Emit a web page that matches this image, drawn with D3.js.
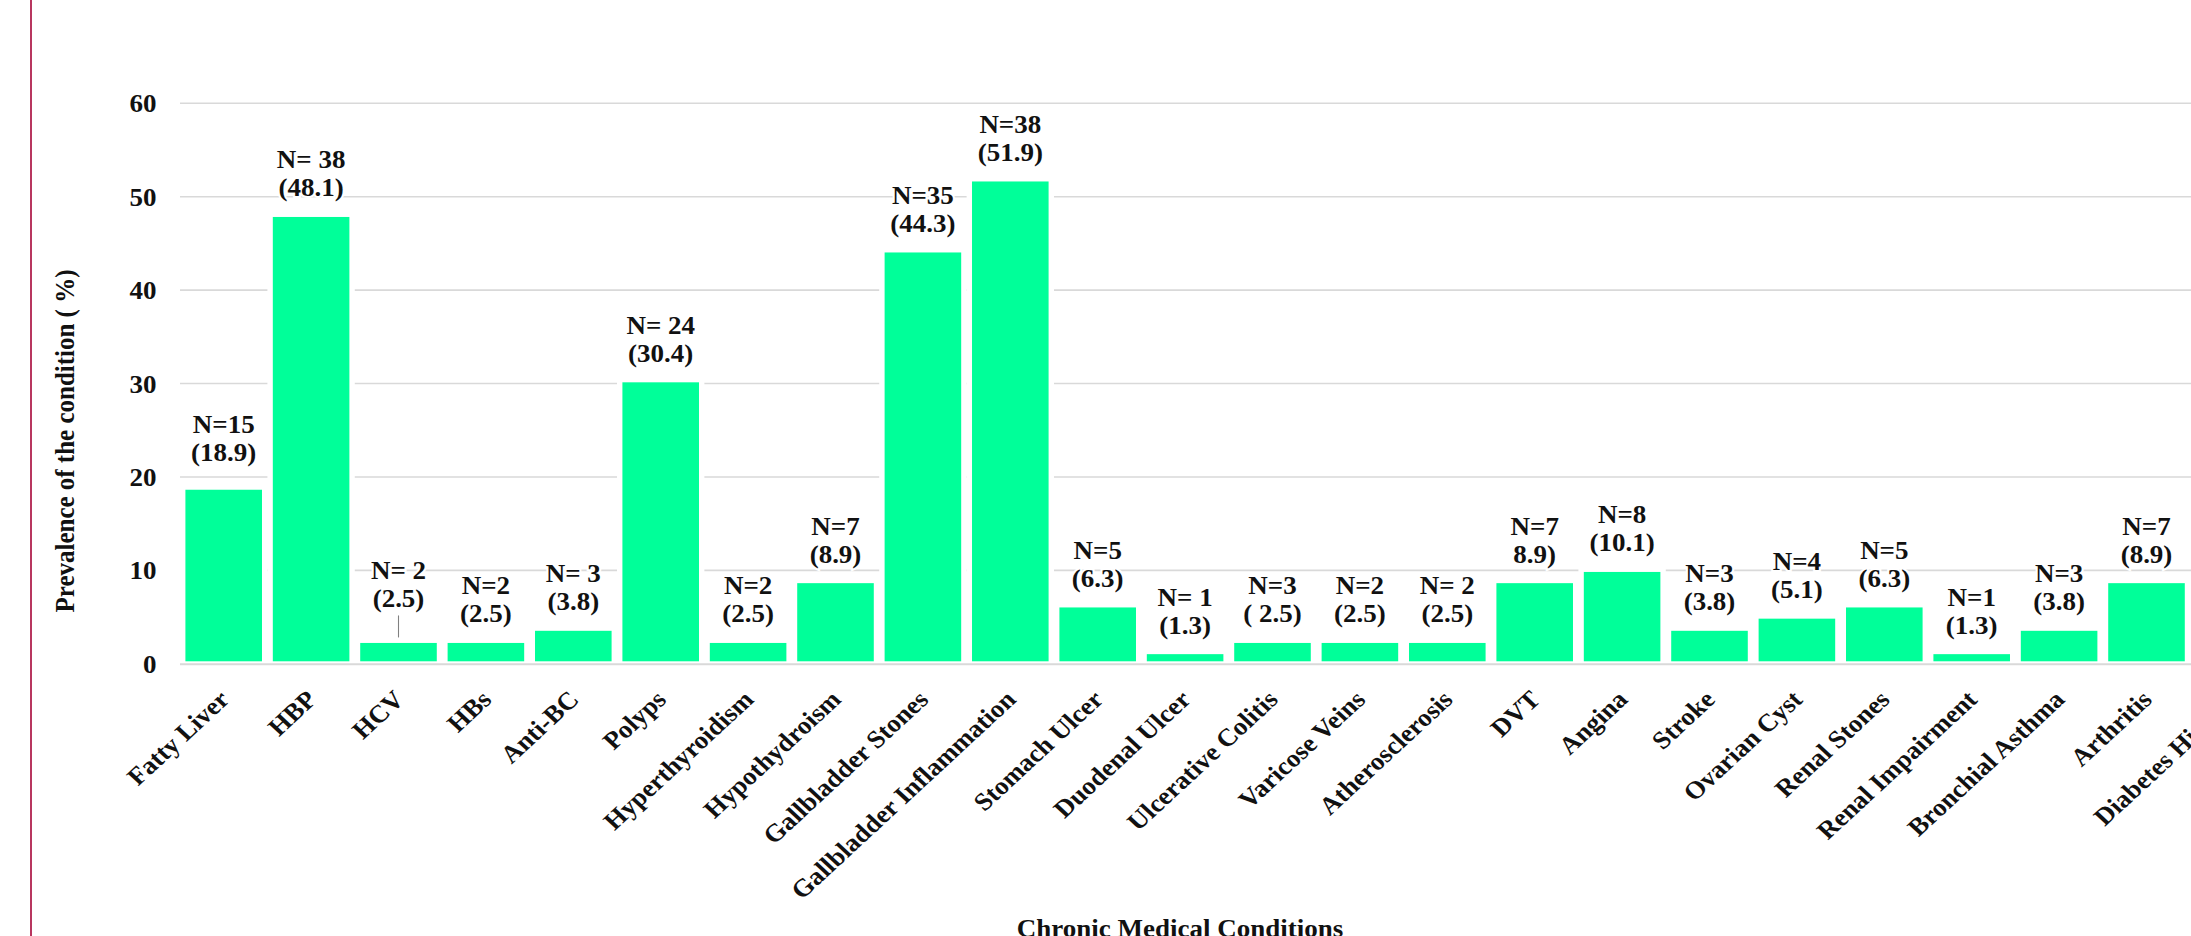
<!DOCTYPE html>
<html>
<head>
<meta charset="utf-8">
<script src="https://cdn.jsdelivr.net/npm/d3@7"></script>
<style>
html,body{margin:0;padding:0;background:#fff;overflow:hidden}
text{font-family:"Liberation Serif","Times New Roman",serif;font-weight:bold;fill:#111}
</style>
</head>
<body>
<svg id="chart" width="2191" height="936"></svg>
<script>
// ---------- data ----------
const categories = ["Fatty Liver","HBP","HCV","HBs","Anti-BC","Polyps","Hyperthyroidism","Hypothydroism",
  "Gallbladder Stones","Gallbladder Inflammation","Stomach Ulcer","Duodenal Ulcer","Ulcerative Colitis",
  "Varicose Veins","Atherosclerosis","DVT","Angina","Stroke","Ovarian Cyst","Renal Stones",
  "Renal Impairment","Bronchial Asthma","Arthritis","Diabetes History"];
const values = [18.9,48.1,2.5,2.5,3.8,30.4,2.5,8.9,44.3,51.9,6.3,1.3,2.5,2.5,2.5,8.9,10.1,3.8,5.1,6.3,1.3,3.8,8.9,null];
const countLabels = ["N=15","N= 38","N= 2","N=2","N= 3","N= 24","N=2","N=7","N=35","N=38","N=5","N= 1","N=3",
  "N=2","N= 2","N=7","N=8","N=3","N=4","N=5","N=1","N=3","N=7",""];
const percentLabels = ["(18.9)","(48.1)","(2.5)","(2.5)","(3.8)","(30.4)","(2.5)","(8.9)","(44.3)","(51.9)","(6.3)",
  "(1.3)","( 2.5)","(2.5)","(2.5)","8.9)","(10.1)","(3.8)","(5.1)","(6.3)","(1.3)","(3.8)","(8.9)",""];
const yTicks = [0,10,20,30,40,50,60];
const yTitle = "Prevalence of the condition ( %)";
const xTitle = "Chronic Medical Conditions";

// ---------- layout ----------
const W = 2191, H = 936;
const SX = 1.08;            // horizontal stretch of the whole figure
const FS = 25;              // font size
const labelLift = {"Fatty Liver": 8, "HCV": 15};   // manual nudges of data labels (px)
const leaderFor = {"HCV": true};

const svg = d3.select("#chart");
svg.append("rect").attr("width", W).attr("height", H).attr("fill", "#fff");
svg.append("line").attr("x1", 31).attr("x2", 31).attr("y1", 0).attr("y2", H)
  .attr("stroke", "#b8365f").attr("stroke-width", 2);

const g = svg.append("g").attr("transform", `scale(${SX},1)`);

const left = 180 / SX, step = 87.4 / SX;
const x = d3.scaleBand().domain(categories)
  .range([left, left + categories.length * step])
  .paddingInner(0.062).paddingOuter(0.031);
const y = d3.scaleLinear().domain([0, 60]).range([663.8, 103.3]);

// gridlines
g.append("g").selectAll("line").data(yTicks.filter(t => t !== 0)).join("line")
  .attr("x1", left).attr("x2", W / SX)
  .attr("y1", d => y(d)).attr("y2", d => y(d))
  .attr("stroke", "#d9d9d9").attr("stroke-width", 1.6);

// bars
const rows = categories.map((c, i) => ({c, v: values[i], n: countLabels[i], p: percentLabels[i]}))
  .filter(d => d.v !== null);
g.append("g").selectAll("rect").data(rows).join("rect")
  .attr("x", d => x(d.c)).attr("width", x.bandwidth())
  .attr("y", d => y(d.v)).attr("height", d => y(0) - y(d.v))
  .attr("fill", "#00ff99").attr("stroke", "#fff").attr("stroke-width", 5);

// zero line
g.append("line").attr("x1", left).attr("x2", W / SX)
  .attr("y1", y(0) + 0.5).attr("y2", y(0) + 0.5)
  .attr("stroke", "#d9d9d9").attr("stroke-width", 2);

// y axis
const yAxis = g.append("g").attr("transform", `translate(${left},0)`)
  .call(d3.axisLeft(y).tickValues(yTicks).tickSize(0).tickPadding(left - 156.5 / SX));
yAxis.select(".domain").remove();
yAxis.selectAll("text").attr("font-size", FS).attr("font-family", null).attr("dy", "0.34em");

// x axis
const xAxis = g.append("g").attr("transform", `translate(0,${y(0)})`)
  .call(d3.axisBottom(x).tickSize(0));
xAxis.select(".domain").remove();
xAxis.selectAll("text")
  .attr("font-size", FS).attr("font-family", null)
  .attr("text-anchor", "end").attr("x", 0).attr("y", 0).attr("dy", null)
  .attr("transform", `translate(${7 / SX},${701 - 663.8}) rotate(-45)`);

// data labels
const lab = g.append("g").selectAll("g").data(rows).join("g")
  .attr("transform", d => `translate(${x(d.c) + x.bandwidth() / 2},${y(d.v) - 18 - (labelLift[d.c] || 0)})`);
lab.append("text").attr("text-anchor", "middle").attr("font-size", FS).attr("y", -28)
  .attr("stroke", "#fff").attr("stroke-width", 4).attr("paint-order", "stroke").text(d => d.n);
lab.append("text").attr("text-anchor", "middle").attr("font-size", FS).attr("y", 0)
  .attr("stroke", "#fff").attr("stroke-width", 4).attr("paint-order", "stroke").text(d => d.p);
lab.filter(d => leaderFor[d.c]).append("line")
  .attr("x1", 0).attr("x2", 0).attr("y1", 8)
  .attr("y2", d => (labelLift[d.c] || 0) + 15)
  .attr("stroke", "#808080").attr("stroke-width", 1);

// axis titles
g.append("text").attr("transform", `translate(${73.6 / SX},441) rotate(-90)`)
  .attr("text-anchor", "middle").attr("font-size", FS).text(yTitle);
g.append("text").attr("x", 1180 / SX).attr("y", 937)
  .attr("text-anchor", "middle").attr("font-size", FS).text(xTitle);
</script>
</body>
</html>
